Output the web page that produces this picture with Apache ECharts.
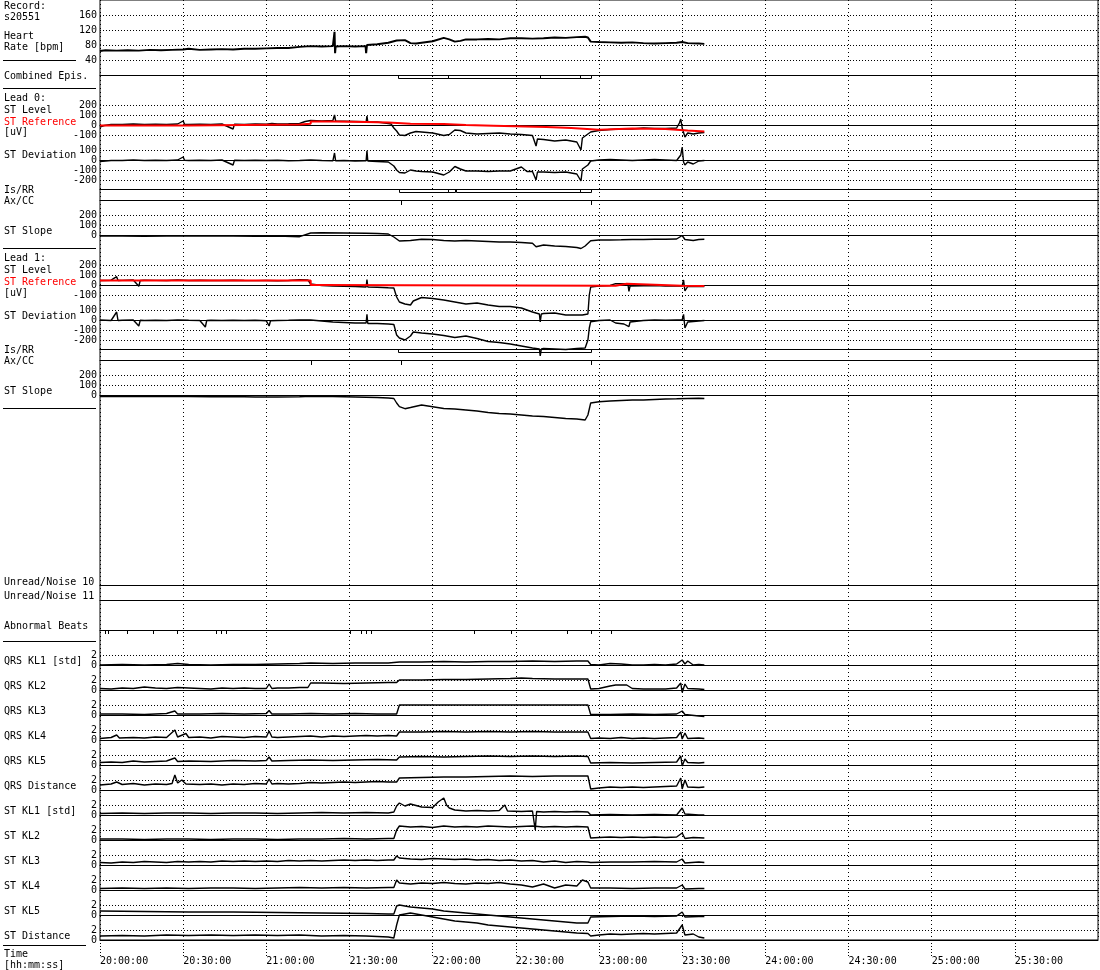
<!DOCTYPE html>
<html><head><meta charset="utf-8">
<script src="https://cdn.jsdelivr.net/npm/echarts@6/dist/echarts.min.js"></script>
<style>html,body{margin:0;padding:0;background:#fff}#c{width:1100px;height:970px}</style>
</head><body><div id="c"></div><script>
// ---- data (time in minutes after 20:00:00) ----
const timeTicks = ['20:00:00','20:30:00','21:00:00','21:30:00','22:00:00','22:30:00','23:00:00','23:30:00','24:00:00','24:30:00','25:00:00','25:30:00'];
const heartRate = [[0,64],[2,66],[6,65],[10,66],[14,65],[18,67],[22,66],[26,67],[30,68],[32,70],[36,67],[40,68],[44,69],[48,68],[52,70],[56,70],[60,71],[64,72],[68,72],[72,75],[76,77],[80,76],[84,77],[84.6,115],[84.8,58],[85,76],[88,77],[92,76],[95.8,77],[96,58],[96.3,80],[100,82],[104,86],[107,92],[110,93],[112,85],[114,84],[120,90],[124,99],[126,95],[128,89],[130,91],[132,95],[136,95],[140,96],[144,95],[148,98],[152,98],[156,97],[160,98],[164,100],[168,99],[172,101],[175,102],[176,100],[177,89],[180,88],[184,87],[188,86],[192,87],[196,85],[200,84],[204,85],[208,86],[210,88],[212,85],[216,84],[218,83]];
const combinedEpisodes = [[107.5,125.4],[125.4,158.8],[158.8,173.2],[173.2,177]];
const lead0IsRR = [[107.7,125.4],[125.4,128],[128.5,173.2],[173.2,177]];
const lead0AxCC = [108.5,177];
const lead1IsRR = [[107.5,177]];
const lead1AxCC = [76.2,108.5,177];
const abnormalBeats = [1.8,3,9.6,19.2,27.8,41.8,43.6,45.6,90,94.3,96.1,97.9,135,148.2,168.6,177.2,184.4];
const lead0Level = [[0,-20],[1.5,-5],[4,5],[8,5],[12,10],[16,5],[20,8],[24,5],[28,10],[30,40],[30.5,8],[32,5],[36,8],[40,5],[44,10],[48,-40],[48.5,8],[52,5],[56,10],[60,8],[62,15],[64,10],[68,12],[72,15],[74,35],[76,45],[80,40],[84,45],[84.6,100],[85,40],[88,38],[92,35],[96,32],[96.3,90],[96.6,30],[100,30],[104,15],[105,10],[106,-30],[107,-60],[108,-100],[110,-105],[112,-80],[114,-65],[116,-70],[120,-80],[124,-105],[126,-95],[128,-50],[130,-55],[132,-80],[136,-90],[140,-85],[144,-80],[148,-90],[152,-95],[156,-105],[157.3,-210],[157.8,-140],[160,-145],[164,-160],[168,-150],[172,-170],[173.5,-250],[174,-130],[175,-110],[176,-90],[177,-70],[180,-55],[184,-45],[188,-40],[192,-40],[196,-30],[200,-35],[204,-35],[208,-30],[209,20],[209.5,60],[210,-30],[211,-120],[212,-80],[214,-90],[216,-80],[218,-75]];
const lead0Reference = [[0,-5],[32,5],[72,13],[76,36],[84,30],[96,26],[104,13],[112,10],[124,0],[132,-7],[142,-20],[161,-30],[170,-47],[180,-35],[192,-40],[204,-55],[212,-65],[218,-70]];
const lead0Deviation = [[0,-15],[4,-5],[8,-5],[12,0],[16,-5],[20,-3],[24,-5],[28,0],[30,30],[30.5,-3],[32,-5],[36,-3],[40,-5],[44,0],[48,-50],[48.5,-3],[52,-5],[56,-3],[60,-5],[64,-3],[68,-8],[72,-5],[76,0],[80,-5],[84,-8],[84.6,70],[85,-8],[88,-5],[92,-10],[96,-8],[96.3,93],[96.6,-10],[100,-15],[104,-20],[106,-60],[107,-100],[108,-125],[110,-130],[112,-100],[114,-110],[116,-115],[120,-120],[124,-150],[126,-120],[128,-65],[130,-90],[132,-110],[136,-110],[140,-115],[144,-110],[148,-110],[152,-70],[154,-115],[156,-115],[157.3,-200],[157.8,-120],[160,-120],[164,-125],[168,-120],[172,-140],[173.5,-210],[174,-90],[176,-50],[177,-10],[180,0],[184,5],[188,0],[192,-5],[196,0],[200,5],[204,0],[208,-5],[209.5,50],[210,130],[210.5,-20],[211,-50],[212,-20],[214,-40],[216,-10],[218,-5]];
const lead0Slope = [[0,-10],[8,-10],[16,-12],[24,-10],[32,-8],[40,-10],[48,-10],[56,-12],[64,-10],[72,-17],[76,20],[80,22],[88,20],[96,18],[100,15],[104,10],[106,-20],[108,-60],[112,-55],[116,-43],[120,-45],[124,-55],[128,-60],[132,-55],[136,-60],[140,-65],[144,-70],[148,-70],[152,-75],[156,-83],[157.3,-117],[160,-100],[164,-110],[168,-115],[172,-125],[173.5,-135],[175,-110],[177,-57],[180,-50],[184,-50],[188,-48],[192,-45],[196,-45],[200,-43],[204,-43],[208,-40],[210,-5],[211,-45],[214,-55],[216,-45],[218,-43]];
const lead1Level = [[0,45],[4,48],[6,83],[6.5,45],[8,46],[12,50],[14,-13],[14.5,45],[16,48],[20,46],[24,45],[28,50],[32,45],[36,48],[40,45],[44,45],[48,48],[52,45],[56,44],[60,45],[64,43],[68,45],[72,53],[75,50],[76,10],[80,-5],[84,-10],[88,-12],[92,-15],[96,-20],[96.3,53],[96.6,-20],[100,-22],[104,-28],[106,-30],[107,-120],[108,-170],[110,-190],[112,-200],[113,-160],[116,-125],[120,-135],[124,-150],[128,-170],[132,-190],[136,-180],[140,-200],[144,-215],[148,-215],[152,-230],[156,-270],[158.5,-290],[158.8,-370],[159.2,-290],[160,-285],[164,-280],[168,-300],[172,-300],[174,-300],[176,-290],[176.5,-100],[177,-20],[180,-10],[184,-5],[186,13],[189.5,13],[190.5,-5],[190.8,-63],[191.2,-10],[196,-8],[200,-5],[204,-10],[208,-8],[210,-10],[210.5,50],[211,-60],[212,-15],[216,-12],[218,-15]];
const lead1Reference = [[0,45],[76,0],[80,-3],[110,-7],[186,13],[190,-7],[210,-10],[218,-10]];
const lead1Deviation = [[0,0],[4,-5],[6,80],[6.5,-5],[8,-3],[12,0],[14,-60],[14.5,-3],[16,-5],[20,-3],[24,-5],[28,0],[32,-3],[36,-5],[38,-70],[38.5,-5],[40,-3],[44,-5],[48,-3],[52,-5],[56,-3],[60,-8],[61,-60],[61.5,-8],[64,-5],[68,-3],[72,0],[76,0],[80,-10],[84,-20],[88,-25],[92,-30],[96,-30],[96.3,57],[96.6,-35],[100,-35],[104,-40],[106,-45],[107,-150],[108,-180],[110,-200],[112,-160],[113,-120],[116,-130],[120,-140],[124,-155],[128,-175],[132,-160],[136,-185],[140,-215],[144,-225],[148,-240],[152,-260],[156,-280],[158.5,-290],[158.8,-360],[159.2,-290],[160,-285],[164,-290],[168,-295],[172,-285],[175,-280],[176,-200],[176.5,-80],[177,-17],[180,-5],[184,0],[186,-30],[189,-40],[190.8,-67],[191.2,-20],[196,-5],[200,0],[204,-3],[208,0],[210,0],[210.5,57],[211,-80],[212,-20],[216,-10],[218,-5]];
const lead1Slope = [[0,-15],[8,-15],[16,-12],[24,-15],[32,-15],[40,-18],[48,-15],[56,-20],[64,-20],[72,-17],[76,-12],[84,-15],[92,-20],[100,-25],[104,-30],[106,-35],[107,-80],[108,-117],[110,-137],[112,-125],[116,-100],[120,-117],[124,-135],[128,-140],[132,-150],[136,-160],[140,-175],[144,-185],[148,-190],[152,-200],[156,-210],[160,-215],[164,-225],[168,-235],[172,-240],[175,-250],[176,-200],[177,-80],[180,-67],[184,-60],[188,-55],[192,-50],[196,-50],[200,-45],[204,-40],[208,-38],[212,-35],[216,-33],[218,-35]];
const qrsKL1 = [[0,0],[8,0.1],[16,0],[24,0.1],[28,0.3],[32,0.1],[40,0],[48,0.1],[56,0.1],[64,0.2],[72,0.3],[76,0.4],[84,0.3],[92,0.4],[100,0.4],[104,0.4],[108,0.6],[116,0.6],[124,0.7],[132,0.6],[140,0.7],[148,0.7],[156,0.8],[164,0.7],[172,0.8],[176,0.8],[177,0.1],[180,0],[184,0.3],[188,0.2],[192,0],[196,0],[200,0.1],[204,0],[208,0.2],[210,1.0],[211,0.2],[212,0.8],[214,0],[216,0.1],[218,0]];
const qrsKL2 = [[0,0.3],[4,0.2],[8,0.4],[12,0.3],[16,0.6],[20,0.4],[24,0.3],[28,0.5],[32,0.4],[36,0.3],[40,0.2],[44,0.4],[48,0.3],[52,0.4],[56,0.3],[60,0.3],[61,1.2],[62,0.3],[64,0.4],[68,0.4],[72,0.5],[75,0.5],[76,1.4],[80,1.4],[88,1.3],[96,1.4],[104,1.5],[107,1.5],[108,2.0],[116,2.0],[124,2.1],[132,2.1],[140,2.2],[148,2.3],[152,2.4],[156,2.3],[164,2.2],[172,2.2],[176,2.2],[177,0.2],[180,0.3],[184,0.8],[186,1.0],[190,1.0],[192,0.3],[196,0.2],[200,0.2],[204,0.2],[208,0.4],[209.5,1.4],[210,-0.5],[211,1.2],[212,0.3],[216,0.2],[218,0.1]];
const qrsKL3 = [[0,0.2],[8,0.2],[16,0.1],[24,0.3],[27,0.8],[28,0.2],[36,0.2],[44,0.3],[52,0.2],[60,0.3],[61,0.9],[62,0.2],[68,0.2],[76,0.3],[84,0.2],[92,0.3],[100,0.2],[107,0.2],[108,2.0],[120,2.0],[140,2.0],[160,2.0],[176,2.0],[177,0.1],[184,0.1],[192,0.2],[200,0.1],[208,0.2],[210,0.8],[211,0.1],[216,-0.2],[218,-0.3]];
const qrsKL4 = [[0,0.3],[4,0.5],[6,1.0],[7,0.4],[12,0.5],[16,0.4],[20,0.6],[24,0.5],[27,2.0],[28,0.6],[31,1.3],[32,0.5],[36,0.6],[40,0.4],[44,0.7],[48,0.6],[52,0.5],[56,0.7],[60,0.6],[61,1.8],[62,0.6],[64,0.5],[68,0.6],[72,0.7],[76,0.8],[80,0.6],[84,0.8],[88,0.7],[92,0.8],[96,0.9],[100,0.8],[104,0.9],[107,0.8],[108,1.6],[116,1.6],[124,1.7],[132,1.6],[140,1.7],[148,1.6],[156,1.7],[164,1.6],[172,1.6],[176,1.6],[177,0.3],[180,0.4],[184,0.3],[188,0.5],[192,0.3],[196,0.4],[200,0.3],[204,0.4],[208,0.5],[209.5,1.6],[210,0.2],[211,1.4],[212,0.3],[216,0.4],[218,0.3]];
const qrsKL5 = [[0,0.5],[4,0.6],[8,0.5],[12,0.8],[16,0.6],[20,0.7],[24,0.8],[27,1.4],[28,0.7],[32,0.8],[40,0.7],[48,0.9],[56,0.8],[60,0.9],[61,1.6],[62,0.8],[68,0.9],[76,1.0],[84,0.9],[92,1.0],[100,1.1],[107,1.0],[108,1.6],[116,1.7],[124,1.6],[132,1.7],[140,1.8],[148,1.7],[156,1.8],[164,1.7],[172,1.8],[176,1.7],[177,0.4],[184,0.5],[192,0.4],[200,0.5],[208,0.6],[209.5,1.8],[210,-0.2],[211,1.2],[212,0.5],[216,0.4],[218,0.5]];
const qrsDistance = [[0,1.0],[4,1.2],[6,1.6],[8,1.1],[12,1.3],[16,1.0],[20,1.2],[24,1.1],[26,1.3],[27,3.0],[28,1.4],[29.5,2.0],[31,1.2],[36,1.1],[40,1.2],[44,1.0],[48,1.2],[52,1.1],[56,1.3],[60,1.2],[61,2.2],[62,1.2],[64,1.3],[68,1.2],[72,1.3],[76,1.5],[80,1.4],[84,1.5],[88,1.6],[92,1.5],[96,1.6],[100,1.7],[104,1.6],[107,1.6],[108,2.4],[116,2.5],[124,2.6],[132,2.6],[140,2.7],[148,2.8],[156,2.7],[164,2.8],[172,2.8],[176,2.8],[177,0.2],[180,0.4],[184,0.6],[188,0.5],[192,0.6],[196,0.5],[200,0.6],[204,0.7],[208,0.8],[209.5,2.4],[210,0.2],[211,2.0],[212,0.6],[216,0.5],[218,0.6]];
const stKL1 = [[0,0.3],[8,0.4],[16,0.3],[24,0.4],[32,0.4],[40,0.3],[48,0.4],[56,0.4],[64,0.3],[72,0.4],[80,0.5],[88,0.4],[96,0.5],[104,0.4],[106,0.6],[107,1.8],[108,2.4],[110,1.8],[112,2.2],[116,1.6],[120,1.5],[122,2.6],[124,3.4],[125,2.0],[126,1.4],[128,1.0],[132,0.8],[136,0.9],[140,0.8],[144,0.9],[146,2.0],[147,0.8],[152,0.7],[156,0.8],[157,-3.0],[157.5,0.7],[160,0.6],[164,0.7],[168,0.6],[172,0.7],[176,0.6],[177,0.0],[184,0.1],[192,0.0],[200,0.1],[208,0.0],[210,1.4],[211,0.2],[216,0.0],[218,0.0]];
const stKL2 = [[0,0.2],[8,0.2],[16,0.1],[24,0.2],[32,0.2],[40,0.1],[48,0.2],[56,0.2],[64,0.1],[72,0.2],[80,0.2],[88,0.3],[96,0.2],[104,0.3],[106,0.3],[107,2.0],[108,2.8],[112,2.6],[116,2.7],[120,2.5],[124,2.8],[128,2.6],[132,2.7],[136,2.6],[140,2.8],[144,2.7],[148,2.6],[152,2.7],[156,2.8],[160,2.6],[164,2.7],[168,2.6],[172,2.7],[176,2.6],[177,0.4],[180,0.5],[184,0.6],[188,0.5],[192,0.6],[196,0.5],[200,0.6],[204,0.5],[208,0.6],[210,1.4],[211,0.3],[214,0.5],[218,0.4]];
const stKL3 = [[0,0.5],[4,0.4],[8,0.6],[12,0.5],[16,0.7],[20,0.6],[24,0.5],[28,0.7],[32,0.6],[36,0.7],[40,0.6],[44,0.8],[48,0.7],[52,0.8],[56,0.7],[60,0.8],[64,0.7],[68,0.9],[72,0.8],[76,0.9],[80,0.8],[84,0.9],[88,1.0],[92,0.9],[96,1.0],[100,0.9],[104,1.0],[106,1.0],[107,1.8],[108,1.4],[112,1.2],[116,1.1],[120,1.3],[124,1.2],[128,1.1],[132,1.2],[136,1.0],[140,1.1],[144,0.9],[148,1.0],[152,0.8],[156,0.9],[160,0.6],[164,0.8],[168,0.5],[172,0.7],[176,0.6],[177,0.5],[184,0.6],[192,0.6],[200,0.7],[208,0.6],[210,1.2],[211,0.4],[216,0.6],[218,0.5]];
const stKL4 = [[0,0.3],[8,0.4],[16,0.3],[24,0.4],[32,0.3],[40,0.4],[48,0.4],[56,0.3],[64,0.4],[72,0.5],[80,0.4],[88,0.5],[96,0.4],[104,0.5],[106,0.5],[107,2.0],[108,1.4],[112,1.2],[116,1.4],[120,1.3],[124,1.5],[128,1.3],[132,1.2],[136,1.4],[140,1.3],[144,1.5],[148,1.2],[152,1.0],[156,0.6],[160,1.2],[164,0.4],[168,1.0],[172,0.8],[174,2.0],[176,1.6],[177,0.4],[184,0.4],[192,0.3],[200,0.4],[208,0.4],[210,1.0],[211,0.2],[216,0.3],[218,0.3]];
const stKL5 = [[0,0.8],[16,0.7],[32,0.6],[48,0.6],[64,0.5],[80,0.4],[96,0.3],[104,0.2],[106,0.2],[107,1.8],[108,2.0],[112,1.6],[116,1.4],[120,1.2],[124,0.8],[128,0.6],[132,0.4],[136,0.2],[140,0.0],[144,-0.2],[148,-0.4],[152,-0.6],[156,-0.8],[160,-1.0],[164,-1.2],[168,-1.4],[172,-1.6],[176,-1.6],[177,-0.4],[184,-0.3],[192,-0.2],[200,-0.3],[208,-0.2],[210,0.6],[211,-0.4],[216,-0.3],[218,-0.3]];
const stDistance = [[0,0.8],[8,0.9],[16,0.8],[24,1.0],[32,0.9],[40,1.0],[48,0.9],[56,1.0],[64,0.9],[72,1.0],[80,0.8],[88,0.9],[96,0.8],[104,0.6],[106,0.4],[107,3.0],[108,5.0],[112,5.4],[116,5.0],[120,4.6],[124,4.2],[128,3.8],[132,3.6],[136,3.4],[140,3.0],[144,2.8],[148,2.6],[152,2.4],[156,2.2],[160,2.0],[164,1.8],[168,1.6],[172,1.4],[176,1.3],[177,0.8],[180,1.0],[184,1.2],[188,1.1],[192,1.2],[196,1.3],[200,1.2],[204,1.3],[208,1.4],[210,3.0],[211,1.0],[214,1.2],[216,0.6],[218,0.4]];

const klRows = [qrsKL1,qrsKL2,qrsKL3,qrsKL4,qrsKL5,qrsDistance,stKL1,stKL2,stKL3,stKL4,stKL5,stDistance];
const leftLabels = [
 ['Record:',6],['s20551',17],['Heart',36],['Rate [bpm]',47],['Combined Epis.',76],
 ['Lead 0:',98],['ST Level',110],['ST Reference',122,'#ff0000'],['[uV]',132],['ST Deviation',155],
 ['Is/RR',190],['Ax/CC',201],['ST Slope',231],
 ['Lead 1:',258],['ST Level',270],['ST Reference',282,'#ff0000'],['[uV]',293],['ST Deviation',316],
 ['Is/RR',350],['Ax/CC',361],['ST Slope',391],
 ['Unread/Noise 10',582],['Unread/Noise 11',596],['Abnormal Beats',626],
 ['QRS KL1 [std]',661],['QRS KL2',686],['QRS KL3',711],['QRS KL4',736],['QRS KL5',761],['QRS Distance',786],
 ['ST KL1 [std]',811],['ST KL2',836],['ST KL3',861],['ST KL4',886],['ST KL5',911],['ST Distance',936],
 ['Time',954],['[hh:mm:ss]',965]
];
const separators = [[60,76],[88,96],[248,96],[408,96],[641,96],[945,86]];

// ---- chart construction ----
const FONT = 'DejaVu Sans Mono';
const grids = [], xAxes = [], yAxes = [], series = [];
const dotH = [1,2];
function addGrid(top, height, y, x) {
  const i = grids.length;
  grids.push({left:100, right:2, top:top, height:height, containLabel:false, outerBoundsMode:'none'});
  xAxes.push(Object.assign({type:'value', gridIndex:i, min:0, max:360, interval:30,
    axisLine:{show:false}, axisTick:{show:false}, axisLabel:{show:false}, splitLine:{show:false}}, x || {}));
  yAxes.push(Object.assign({type:'value', gridIndex:i, axisLine:{show:false}, axisTick:{show:false},
    axisLabel:{show:true, margin:3, color:'#000', fontFamily:FONT, fontSize:10, hideOverlap:false,
      showMinLabel:true, showMaxLabel:true},
    splitLine:{show:true, lineStyle:{color:'#000', width:1, type:dotH}}}, y || {}));
  return i;
}
const solidTop = {position:'top', axisLine:{show:true, onZero:false, lineStyle:{color:'#000', width:1}}};
const solidZero = {axisLine:{show:true, onZero:true, lineStyle:{color:'#000', width:1}}};
const noY = {show:false, min:0, max:1};
function line(gi, data, color, width, step) {
  series.push({type:'line', xAxisIndex:gi, yAxisIndex:gi, data:data, showSymbol:false, symbol:'none',
    step: step || false, clip:false, animation:false, z: color ? 3 : 2,
    lineStyle:{color:color || '#000', width:width || 1.4}});
}
function episodes(gi, data) {
  series.push({type:'custom', xAxisIndex:gi, yAxisIndex:gi, data:data, clip:false, animation:false,
    encode:{x:[0,1]},
    renderItem:function(params, api){
      const s = api.coord([api.value(0), 0]);
      const e = api.coord([api.value(1), 0]);
      const cs = params.coordSys;
      const x0 = Math.round(s[0]) + 0.5, x1 = Math.round(e[0]) + 0.5;
      return {type:'rect', shape:{x:x0, y:cs.y + 0.5, width:x1 - x0, height:3},
        style:{fill:null, stroke:'#000', lineWidth:1}};
    }});
}
function ticks(gi, times, len) {
  series.push({type:'custom', xAxisIndex:gi, yAxisIndex:gi, data:times.map(t => [t, 0]), clip:false, animation:false,
    encode:{x:0, y:1},
    renderItem:function(params, api){
      const p = api.coord([api.value(0), 0]);
      const cs = params.coordSys;
      const x = Math.round(p[0]) + 0.5;
      return {type:'line', shape:{x1:x, y1:cs.y, x2:x, y2:cs.y + len}, style:{stroke:'#000', lineWidth:1}};
    }});
}

// background frame with vertical time grid + time axis
addGrid(0, 940, {show:false}, {
  axisLabel:{show:true, margin:16, align:'left', color:'#000', fontFamily:FONT, fontSize:10, showMaxLabel:false, hideOverlap:false,
    formatter:function(v){ return timeTicks[Math.round(v/30)] || ''; }},
  axisTick:{show:true, length:17, lineStyle:{color:'#000', type:[1,2]}},
  splitLine:{show:true, lineStyle:{color:'#000', width:1, type:[1,3]}}
});
grids[0].show = true; grids[0].borderColor = '#000'; grids[0].borderWidth = 1;

// heart rate
let g = addGrid(15, 45, {min:40, max:160, interval:40});
line(g, heartRate, null, 2);
// combined episodes
g = addGrid(75, 13, noY, solidTop); episodes(g, combinedEpisodes);
// lead 0
g = addGrid(105, 30, {min:-100, max:200, interval:100}, solidZero);
line(g, lead0Level); line(g, lead0Reference, '#ff0000', 2, 'end');
g = addGrid(150, 30, {min:-200, max:100, interval:100}, solidZero); line(g, lead0Deviation);
g = addGrid(189, 11, noY, solidTop); episodes(g, lead0IsRR);
g = addGrid(200, 15, noY, solidTop); ticks(g, lead0AxCC, 5);
g = addGrid(215, 20, {min:0, max:200, interval:100}, solidZero); line(g, lead0Slope);
// lead 1
g = addGrid(265, 30, {min:-100, max:200, interval:100}, solidZero);
line(g, lead1Level); line(g, lead1Reference, '#ff0000', 2, 'end');
g = addGrid(310, 30, {min:-200, max:100, interval:100}, solidZero); line(g, lead1Deviation);
g = addGrid(349, 11, noY, solidTop); episodes(g, lead1IsRR);
g = addGrid(360, 15, noY, solidTop); ticks(g, lead1AxCC, 5);
g = addGrid(375, 20, {min:0, max:200, interval:100}, solidZero); line(g, lead1Slope);
// noise rows & abnormal beats
addGrid(585, 15, noY, solidTop);
addGrid(600, 30, noY, solidTop);
g = addGrid(630, 10, noY, solidTop); ticks(g, abnormalBeats, 4);
// KL rows
klRows.forEach(function(d, i){
  const gi = addGrid(655 + 25 * i, 10, {min:0, max:2, interval:2}, solidZero);
  line(gi, d);
});

const graphic = leftLabels.map(function(l){
  return {type:'text', x:4, y:l[1], silent:true,
    style:{text:l[0], fill:l[2] || '#000', font:'10px "' + FONT + '"', verticalAlign:'middle'}};
}).concat(separators.map(function(s){
  return {type:'line', silent:true, shape:{x1:3, y1:s[0] + 0.5, x2:s[1], y2:s[0] + 0.5}, style:{stroke:'#000', lineWidth:1}};
}));

const chart = echarts.init(document.getElementById('c'), null, {renderer:'canvas'});
chart.setOption({animation:false, backgroundColor:'#fff', grid:grids, xAxis:xAxes, yAxis:yAxes, series:series, graphic:graphic});
</script></body></html>
